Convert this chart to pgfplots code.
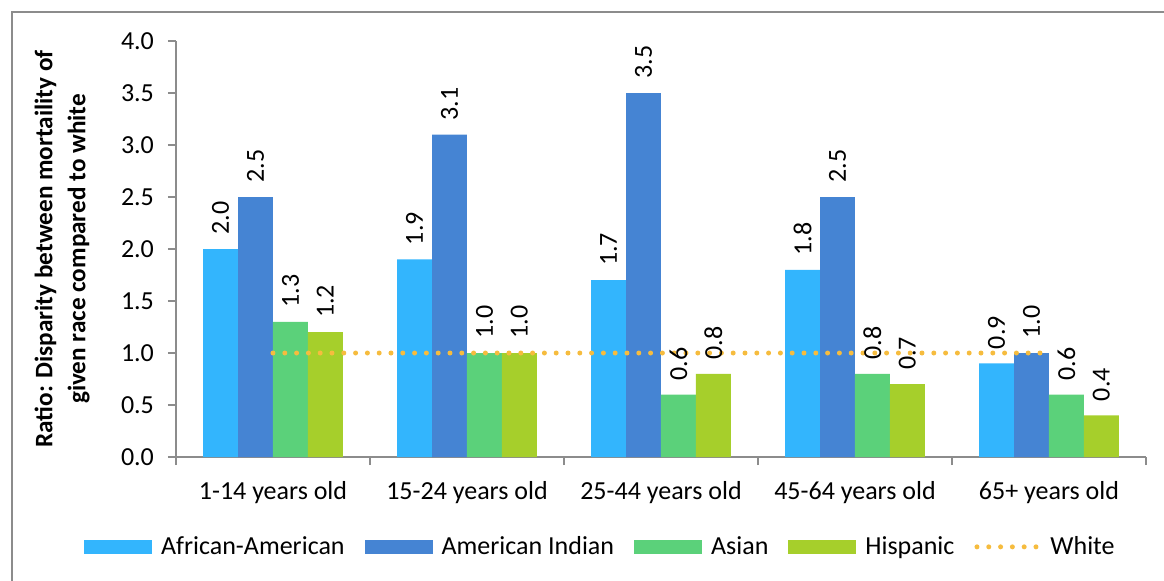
\documentclass[border=0pt]{standalone}
\usepackage{pgfplots}
\pgfplotsset{compat=1.18}
\usepackage{fontspec}
\setmainfont{Carlito}
\definecolor{caa}{HTML}{33B5FD}
\definecolor{cai}{HTML}{4584D3}
\definecolor{cas}{HTML}{5BD17A}
\definecolor{chi}{HTML}{A6CF2B}
\definecolor{cwh}{HTML}{F6BC3E}
\definecolor{axgray}{HTML}{8C8C8C}
\newcommand\cf{\fontsize{13pt}{15.6pt}\selectfont}
\begin{document}
\begin{tikzpicture}
\useasboundingbox (0,0) rectangle (582pt,290pt);
\draw[axgray, line width=1pt] (6pt,-2pt) -- (6pt,284pt) -- (590pt,284pt);
\begin{axis}[
  at={(88pt,61.5pt)}, anchor=south west,
  scale only axis, width=485pt, height=208pt,
  xmin=-0.5, xmax=4.5, ymin=0, ymax=4,
  enlargelimits=false, clip=false,
  axis lines=left, axis line style={-, axgray, line width=0.75pt},
  tick align=outside,
  major tick length=4pt, minor tick length=4pt,
  xtick={0,1,2,3,4},
  xticklabels={1-14 years old,15-24 years old,25-44 years old,45-64 years old,65+ years old},
  minor xtick={-0.5,0.5,1.5,2.5,3.5,4.5},
  major x tick style={draw=none},
  minor x tick style={draw=axgray, line width=0.75pt},
  ytick={0,0.5,...,4},
  y tick style={draw=axgray, line width=0.75pt},
  yticklabel style={font=\cf, xshift=-3.5pt},
  xticklabel style={font=\cf, yshift=-4.5pt},
  /pgf/number format/.cd, fixed, fixed zerofill, precision=1, assume math mode=true,
  /pgfplots/.cd,
  ybar, bar width=0.18,
  ylabel={Ratio: Disparity between mortaility of\\given race compared to white},
  ylabel style={at={(axis description cs:-0.1175,0.5)}, anchor=center, align=center, font=\fontsize{12.6pt}{16.5pt}\selectfont\bfseries},
  every node near coord/.append style={rotate=90, anchor=west, font=\cf, inner xsep=7pt, inner ysep=0pt, text=black},
  legend columns=5,
  legend style={at={(axis description cs:0.438,-0.216)}, anchor=center, draw=none, font=\cf,
    /tikz/every odd column/.append style={column sep=3pt},
    /tikz/every even column/.append style={column sep=8.5pt},
    nodes={inner sep=1.5pt}},
]
\addplot[fill=caa, draw=none, bar shift=-0.27, nodes near coords,
  legend image code/.code={\fill[caa] (0pt,-3.5pt) rectangle (34pt,3.5pt);}]
  coordinates {(0,2.0) (1,1.9) (2,1.7) (3,1.8) (4,0.9)};
\addplot[fill=cai, draw=none, bar shift=-0.09, nodes near coords,
  legend image code/.code={\fill[cai] (0pt,-3.5pt) rectangle (34pt,3.5pt);}]
  coordinates {(0,2.5) (1,3.1) (2,3.5) (3,2.5) (4,1.0)};
\addplot[fill=cas, draw=none, bar shift=0.09, nodes near coords,
  legend image code/.code={\fill[cas] (0pt,-3.5pt) rectangle (34pt,3.5pt);}]
  coordinates {(0,1.3) (1,1.0) (2,0.6) (3,0.8) (4,0.6)};
\addplot[fill=chi, draw=none, bar shift=0.27, nodes near coords,
  legend image code/.code={\fill[chi] (0pt,-3.5pt) rectangle (34pt,3.5pt);}]
  coordinates {(0,1.2) (1,1.0) (2,0.8) (3,0.7) (4,0.4)};
\addplot[sharp plot, no marks, draw=cwh, line width=2.5pt, line cap=round, dash pattern=on 0pt off 5.9pt,
  legend image code/.code={\draw[cwh, line width=2.5pt, line cap=round, dash pattern=on 0pt off 5.9pt] (0pt,0pt) -- (31pt,0pt);}]
  coordinates {(0,1) (1,1) (2,1) (3,1) (4,1)};
\legend{African-American,American Indian,Asian,Hispanic,White}
\end{axis}
\end{tikzpicture}
\end{document}
